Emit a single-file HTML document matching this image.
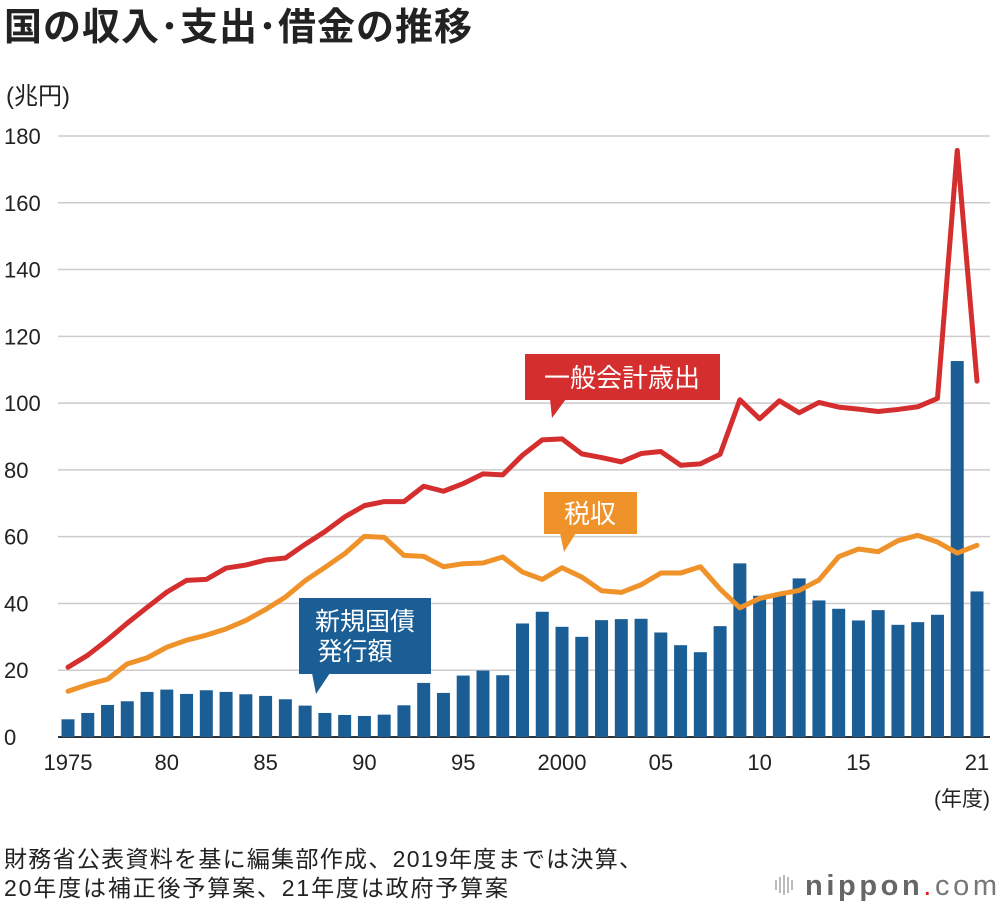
<!DOCTYPE html>
<html><head><meta charset="utf-8"><style>
body{margin:0;background:#fff;width:1000px;height:910px;overflow:hidden;font-family:"Liberation Sans","Noto Sans CJK JP",sans-serif}
</style></head><body>
<svg id="c" width="1000" height="910" xmlns="http://www.w3.org/2000/svg" font-family="Liberation Sans, Noto Sans CJK JP, sans-serif">
<text x="4" y="40" font-size="38" font-weight="bold" fill="#222" textLength="468">国の収入･支出･借金の推移</text>
<text x="6" y="104" font-size="24" fill="#222">(兆円)</text>
<text x="990" y="806" font-size="21" fill="#222" text-anchor="end">(年度)</text>
<g id="grid"></g><g id="bars"></g><g id="lines"></g><g id="xt"></g>
<g><rect x="525" y="354" width="195" height="46" fill="#d42f2e"/><polygon points="550,399 566,399 552,418" fill="#d42f2e"/><text x="622" y="387" font-size="26" fill="#fff" text-anchor="middle">一般会計歳出</text></g>
<g><rect x="544" y="492" width="93" height="42" fill="#ef922a"/><polygon points="560,533 576,533 564,552" fill="#ef922a"/><text x="590" y="523" font-size="26" fill="#fff" text-anchor="middle">税収</text></g>
<g><rect x="299" y="598" width="132" height="76" fill="#1b5e96"/><polygon points="312,673 330,673 316,694" fill="#1b5e96"/><text x="365" y="630" font-size="25" fill="#fff" text-anchor="middle">新規国債</text><text x="355" y="660" font-size="25" fill="#fff" text-anchor="middle">発行額</text></g>
<text x="4" y="867" font-size="23" fill="#222" textLength="638">財務省公表資料を基に編集部作成、2019年度までは決算、</text>
<text x="4" y="896" font-size="23" fill="#222" textLength="504">20年度は補正後予算案、21年度は政府予算案</text>
<g><g fill="#bbb"><rect x="775" y="880" width="2" height="10"/><rect x="779" y="877" width="2" height="16"/><rect x="783" y="875" width="2" height="20"/><rect x="787" y="877" width="2" height="16"/><rect x="791" y="880" width="2" height="10"/></g>
<text x="805" y="895" font-size="29" fill="#666" textLength="192"><tspan font-weight="bold">nippon</tspan><tspan fill="#e8161d">.</tspan><tspan fill="#777">com</tspan></text></g>
</svg>
<script>
const years=[];for(let y=1975;y<=2021;y++)years.push(y);
const bonds=[5.3,7.2,9.6,10.7,13.5,14.2,12.9,14.0,13.5,12.8,12.3,11.3,9.4,7.2,6.6,6.3,6.7,9.5,16.2,13.2,18.4,19.9,18.5,34.0,37.5,33.0,30.0,35.0,35.3,35.4,31.3,27.5,25.4,33.2,52.0,42.3,42.8,47.5,40.9,38.4,34.9,38.0,33.6,34.4,36.6,112.6,43.6];
const expenditure=[20.9,24.5,29.1,34.1,38.8,43.4,46.9,47.2,50.6,51.5,53.0,53.6,57.7,61.5,65.9,69.3,70.5,70.5,75.1,73.6,75.9,78.8,78.5,84.4,89.0,89.3,84.8,83.7,82.4,84.9,85.5,81.4,81.8,84.7,101.0,95.3,100.7,97.1,100.2,98.8,98.2,97.5,98.1,98.9,101.4,175.7,106.6];
const tax=[13.7,15.7,17.3,21.9,23.7,26.9,29.0,30.5,32.4,34.9,38.2,41.9,46.8,50.8,54.9,60.1,59.8,54.4,54.1,51.0,51.9,52.1,53.9,49.4,47.2,50.7,47.9,43.8,43.3,45.6,49.1,49.1,51.0,44.3,38.7,41.5,42.8,43.9,47.0,54.0,56.3,55.5,58.8,60.4,58.4,55.1,57.4];
const yTicks=[0,20,40,60,80,100,120,140,160,180];
const xTickYears=[1975,1980,1985,1990,1995,2000,2005,2010,2015,2021];
const xTickLabels=["1975","80","85","90","95","2000","05","10","15","21"];
const NS="http://www.w3.org/2000/svg";
const X=y=>68+(y-1975)*(909/46);
const Y=v=>737-v*(601/180);
function mk(t,a,p){const e=document.createElementNS(NS,t);for(const k in a)e.setAttribute(k,a[k]);p.appendChild(e);return e;}
const g=document.getElementById('grid');
yTicks.forEach(v=>{const l=mk('line',{x1:58,x2:990,y1:Y(v),y2:Y(v),stroke:v===0?'#333':'#ccc','stroke-width':v===0?2:1.5},g);


const t=mk('text',{x:4,y:Y(v)+8,'font-size':22,fill:'#222'},g);t.textContent=v;

});
const b=document.getElementById('bars');
years.forEach((y,i)=>{const r=mk('rect',{x:X(y)-6.5,y:Y(bonds[i]),width:13,height:Y(0)-Y(bonds[i]),fill:'#1b5e96'},b);

});
const L=document.getElementById('lines');
function line(arr,col,name){const p=mk('polyline',{points:arr.map((v,i)=>X(years[i])+','+Y(v)).join(' '),fill:'none',stroke:col,'stroke-width':5,'stroke-linejoin':'round','stroke-linecap':'round'},L);

}
line(tax,'#ef922a','tax-revenue-line');
line(expenditure,'#d42f2e','expenditure-line');
const xt=document.getElementById('xt');
xTickYears.forEach((y,i)=>{const t=mk('text',{x:X(y),y:770,'font-size':22,fill:'#222','text-anchor':'middle'},xt);t.textContent=xTickLabels[i];

});
</script>
</body></html>
